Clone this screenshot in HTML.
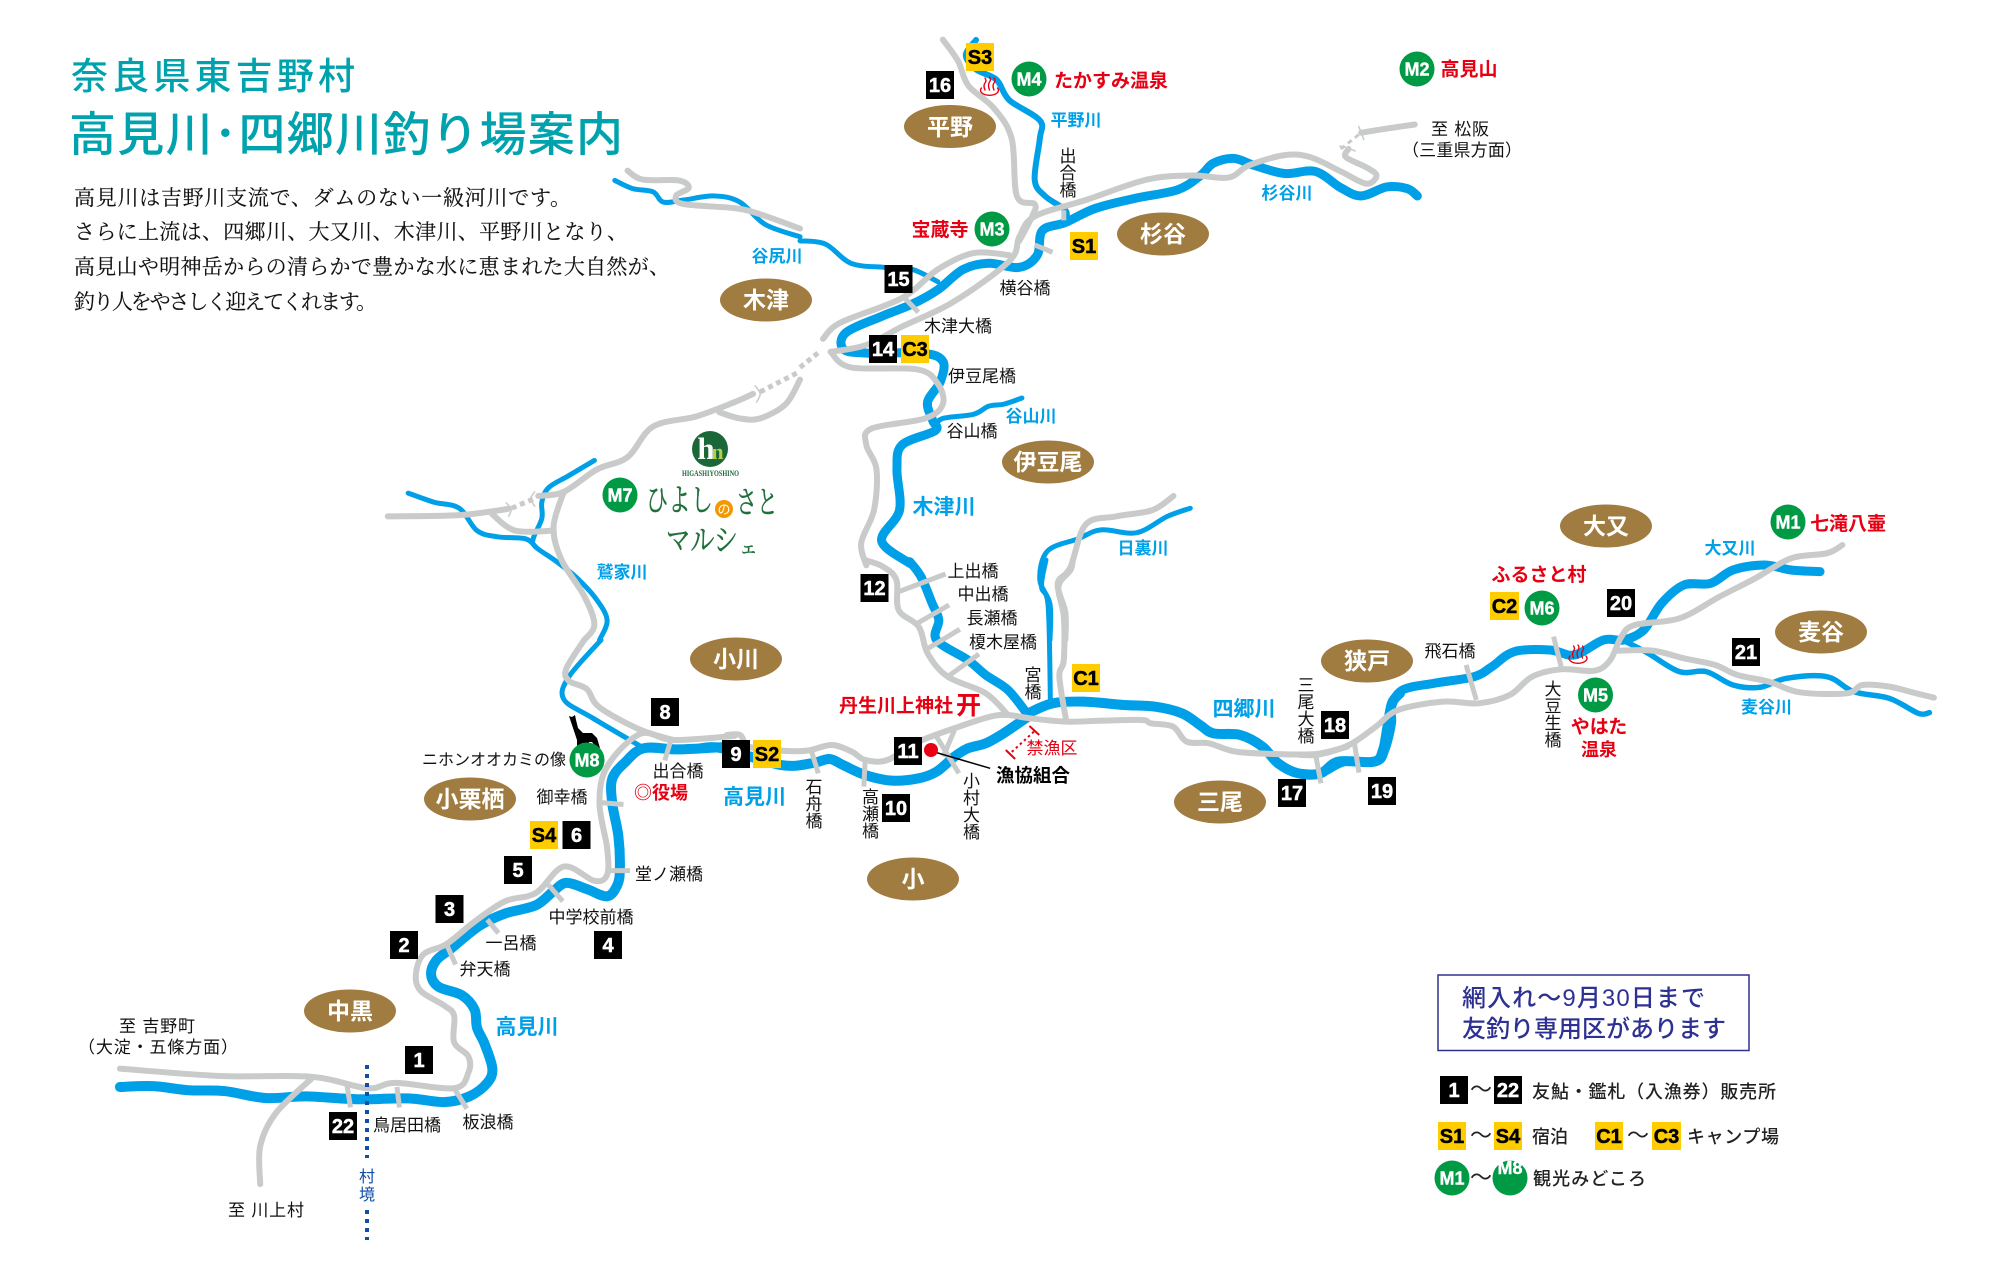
<!DOCTYPE html>
<html lang="ja">
<head>
<meta charset="utf-8">
<title>高見川・四郷川釣り場案内</title>
<style>
html,body{margin:0;padding:0;background:#fff}
svg{display:block}
text{font-family:"Liberation Sans","Noto Sans CJK JP",sans-serif}
polyline,path.sm{fill:none;stroke-linejoin:round;stroke-linecap:round;vector-effect:non-scaling-stroke}
.b{stroke:#00a0e9;stroke-width:10}
.bs{stroke:#00a0e9;stroke-width:5}
.g{stroke:#c9caca;stroke-width:6}
.gs{stroke:#c9caca;stroke-width:5;stroke-linecap:butt}
.t{stroke:#c9caca;stroke-width:5;stroke-dasharray:5 4;stroke-linecap:butt}
.m{stroke:#c9caca;stroke-width:1.5}
.l{font-size:17px;fill:#111;text-anchor:middle}
.r{font-size:17px;font-weight:700;fill:#00a0e9;text-anchor:middle}
.rb{font-size:21px;font-weight:700;fill:#00a0e9;text-anchor:middle}
.red{font-size:19px;font-weight:700;fill:#e60012;text-anchor:middle}
.ov{font-size:23px;font-weight:700;fill:#fff;text-anchor:middle}
.nb{font-family:"Liberation Sans",sans-serif;font-size:20px;font-weight:700;fill:#fff;stroke:#fff;stroke-width:.5;text-anchor:middle}
.ny{font-family:"Liberation Sans",sans-serif;font-size:20px;font-weight:700;fill:#000;stroke:#000;stroke-width:.5;text-anchor:middle}
.nm{font-family:"Liberation Sans",sans-serif;font-size:18px;font-weight:700;fill:#fff;stroke:#fff;stroke-width:.4;text-anchor:middle}
.body{font-family:"Liberation Serif","Noto Serif CJK SC",serif;font-size:21px;fill:#111;stroke:#111;stroke-width:.15}
.leg{font-size:18px;font-weight:500;fill:#222}
.hi{font-family:"Liberation Serif","Noto Serif CJK SC",serif;fill:#1f6f3a;stroke:#1f6f3a;stroke-width:.4}
</style>
</head>
<body>
<svg xmlns="http://www.w3.org/2000/svg" width="2000" height="1280" viewBox="0 0 2000 1280">
<rect width="2000" height="1280" fill="#fff"/>

<!-- title -->
<text x="71" y="89" font-size="37" fill="#00a3ad" font-weight="500" textLength="284" lengthAdjust="spacing">奈良県東吉野村</text>
<text x="69" y="151" font-size="47" fill="#00a3ad" font-weight="500" textLength="554" lengthAdjust="spacing">高見川･四郷川釣り場案内</text>
<text class="body" x="74" y="205" textLength="497" lengthAdjust="spacing">高見川は吉野川支流で、ダムのない一級河川です。</text>
<text class="body" x="74" y="239" textLength="554" lengthAdjust="spacing">さらに上流は、四郷川、大又川、木津川、平野川となり、</text>
<text class="body" x="74" y="274" textLength="596" lengthAdjust="spacing">高見山や明神岳からの清らかで豊かな水に恵まれた大自然が、</text>
<text class="body" x="74" y="309" textLength="303" lengthAdjust="spacing">釣り人をやさしく迎えてくれます。</text>

<!-- G4: lower left -->
<g transform="translate(0,640) scale(.5102,.4082)">
<polyline class="b" points="235,1095 300,1093 370,1103 440,1105 520,1122 600,1118 700,1125 800,1123 870,1132 920,1118 955,1085 965,1050 950,990 935,950 930,905 905,870 860,850 845,820 855,785 885,755 940,700 990,670 1050,650 1085,615 1110,595 1150,610 1190,628 1210,600 1215,560 1212,480 1200,400 1200,340 1225,300 1262,265 1330,268 1420,262"/>
<polyline class="bs" points="1178,0 1115,90 1105,145 1160,190 1262,265"/>
<polyline class="g" points="235,1050 430,1068 610,1070 720,1098 775,1085 890,1098 918,1060 918,1020 890,985 890,920 870,895 825,860 815,820 830,770 875,745 930,690 990,640 1050,620 1105,555 1165,590 1190,575 1190,510 1175,400 1190,310 1255,230 1320,245 1440,235"/>
<polyline class="g" points="1145,0 1110,70 1115,100 1150,120 1175,165 1255,220 1320,245"/>
<polyline class="g" points="610,1075 540,1160 510,1240 510,1333"/>
<polyline class="gs" points="680,1090 687,1145"/>
<polyline class="gs" points="778,1095 783,1145"/>
<polyline class="gs" points="890,1098 915,1148"/>
<polyline class="gs" points="875,745 893,795"/>
<polyline class="gs" points="955,685 977,718"/>
<polyline class="gs" points="1075,600 1103,640"/>
<polyline class="gs" points="1190,565 1235,565"/>
<polyline class="gs" points="1175,398 1222,403"/>
<polyline class="gs" points="1315,245 1303,295"/>
</g>

<!-- G1: upper left -->
<g transform="scale(.5102,.4082)">
<polyline class="bs" points="1165,1128 1115,1165 1075,1195 1062,1230 1062,1270 1045,1320 1050,1340 1090,1375 1130,1415 1170,1470 1190,1520 1175,1568"/>
<polyline class="bs" points="800,1208 850,1230 900,1245 935,1300 975,1315 1030,1320 1050,1340"/>
<polyline class="bs" points="1205,442 1240,462 1280,470 1300,495 1340,490 1400,480 1450,495 1500,550 1568,580"/>
<polyline class="g" points="760,1265 900,1262 995,1247"/>
<polyline class="t" points="1003,1245 1050,1220"/>
<polyline class="g" points="1055,1215 1105,1205 1170,1150 1230,1120 1280,1045 1365,1020 1440,985 1476,965"/>
<polyline class="t" points="1490,960 1568,910"/>
<polyline class="g" points="1105,1205 1085,1290 1100,1370 1145,1460 1165,1530 1145,1568"/>
<polyline class="g" points="965,1260 1010,1300 1085,1300"/>
<polyline class="g" points="1410,1010 1450,1025 1490,1025 1540,990 1568,930"/>
<polyline class="g" points="1230,418 1260,440 1330,442 1350,460 1325,480 1340,500 1440,510 1490,525 1568,560"/>
<polyline class="m" points="1480,945 1490,965 1483,985"/>
<polyline class="m" points="992,1232 1002,1247 997,1265"/>
<polyline class="m" points="1048,1205 1040,1222 1048,1240"/>
</g>

<!-- G2: upper middle -->
<g transform="translate(800,0) scale(.5102,.4082)">
<polyline class="bs" points="0,590 50,598 100,645 165,655 220,660 270,690"/>
<polyline class="bs" style="stroke-width:6" points="345,98 325,135 345,170 385,195 410,245 470,295 470,340 460,440 480,480 520,515 520,540"/>
<polyline class="bs" points="435,975 400,990 370,995 340,1015 280,1025 265,1045"/>
<polyline class="bs" points="765,1245 720,1265 660,1305 590,1298 545,1320 485,1350 470,1420 490,1480 490,1568"/>
<polyline class="b" style="stroke-width:9" points="1210,480 1190,462 1150,458 1100,480 1060,460 1010,420 950,425 890,405 850,388 810,400 785,430 740,465 660,485 580,510 520,545 475,565 465,625 430,655 370,645 320,660 270,710 220,745 160,775 90,815 85,855 130,865 240,865 280,885 275,935 250,985 260,1030 265,1055 200,1090 190,1150 195,1250 160,1325 215,1380"/>
<polyline class="t" points="0,900 40,860"/>
<polyline class="g" points="60,862 130,845 200,800 300,740 410,640 430,580 460,530 560,490 680,440 770,430 840,435 880,405 950,380 1000,385 1060,420 1110,450 1130,430 1110,410 1070,385 1075,365"/>
<polyline class="t" style="stroke-width:3" points="1060,365 1100,325"/>
<polyline class="g" points="1100,325 1150,315 1205,305"/>
<polyline class="g" points="45,830 80,790 200,730 270,660 340,620 410,625"/>
<polyline class="g" points="60,862 100,900 230,905 270,940 280,990 245,1025 140,1050 130,1090 150,1150 145,1250 120,1330 130,1385"/>
<polyline class="g" points="280,97 310,150 330,210 380,265 415,340 425,480 460,500 455,530 430,590"/>
<polyline class="g" points="732,1215 690,1250 620,1265 560,1285 530,1390 505,1430 520,1500 520,1568"/>
<polyline class="gs" points="460,600 495,618"/>
<polyline class="gs" points="205,730 232,765"/>
<polyline class="gs" points="517,515 517,540"/>
<polyline class="m" points="1095,310 1100,325 1105,342"/>
<polyline class="m" points="1058,358 1072,362 1088,370"/>
</g>

<!-- G5: center -->
<g transform="translate(700,560) scale(.4464,.3333)">
<polyline class="b" points="0,565 50,565 180,615 250,610 290,597 320,615 370,645 430,662 490,655 530,635 570,590 600,565 640,550 680,520 735,470"/>
<polyline class="b" style="stroke-width:9" points="470,5 495,50 520,130 535,180 530,240 600,300 640,345 690,390 735,465"/>
<polyline class="b" points="735,460 790,430 860,425 950,435 1020,440 1080,460 1120,495 1150,520 1210,525 1260,560 1295,610 1340,640 1390,640 1430,605 1510,605 1530,570 1540,500 1550,430 1568,400"/>
<polyline class="bs" points="775,0 765,80 780,140 785,430"/>
<polyline class="g" points="60,525 90,525 110,560 180,572 240,572 295,555 340,575 370,600 420,600 490,545 580,500 650,470 690,465 740,475 820,485 900,482 990,480 1010,490 1060,500 1090,545 1140,550 1200,575 1290,582 1380,582 1450,560"/>
<polyline class="g" points="370,0 410,20 440,60 445,150 490,200 510,280 555,350 640,400 690,465"/>
<polyline class="g" points="835,0 830,30 803,80 815,170 815,300 805,350 820,480"/>
<polyline class="gs" points="445,95 550,42"/>
<polyline class="gs" points="480,195 558,135"/>
<polyline class="gs" points="505,270 582,208"/>
<polyline class="gs" points="555,350 625,282"/>
<polyline class="gs" points="250,575 265,640"/>
<polyline class="gs" points="370,600 367,680"/>
<polyline class="gs" points="530,530 580,640"/>
<polyline class="gs" points="570,510 545,590"/>
<polyline style="stroke:#000;stroke-width:1.5;stroke-linecap:butt" points="530,578 650,625"/>
<polyline style="stroke:#e60012;stroke-width:2;stroke-dasharray:2.5 3;stroke-linecap:butt" points="748,515 695,580"/>
<polyline style="stroke:#e60012;stroke-width:2;stroke-linecap:butt" points="738,498 760,525"/>
<polyline style="stroke:#e60012;stroke-width:2;stroke-linecap:butt" points="685,570 706,597"/>
</g>

<!-- G3: right -->
<g transform="translate(1300,440) scale(.4464,.3333)">
<polyline class="b" style="stroke-width:9" points="0,1000 45,1000 100,965 170,965 190,930 205,850 205,800 230,750 300,730 390,710 430,680 480,635 560,630 615,645 680,600 725,600 770,570 810,490 860,435 920,430 970,390 1040,375 1100,390 1165,395"/>
<polyline class="bs" style="stroke-width:5.500" points="730,605 780,640 850,695 910,695 970,735 1030,742 1090,715 1180,710 1240,755 1320,775 1385,820 1410,818"/>
<polyline class="g" points="0,945 45,943 110,915 170,860 220,810 320,785 400,790 470,765 520,710 585,688 660,692 695,660 720,590 750,555 850,535 940,470 1020,415 1100,355 1180,340 1215,315"/>
<polyline class="g" points="710,632 790,632 860,655 930,675 980,705 1050,725 1120,757 1225,760 1260,735 1320,740 1380,760 1420,773"/>
<polyline class="gs" points="568,590 585,680"/>
<polyline class="gs" points="372,675 395,780"/>
<polyline class="gs" points="122,910 132,998"/>
<polyline class="gs" points="35,945 47,1030"/>
</g>

<!-- village border -->
<line x1="367" y1="1065" x2="367" y2="1158" stroke="#0d4ea6" stroke-width="4" stroke-dasharray="4 5"/>
<line x1="367" y1="1210" x2="367" y2="1240" stroke="#0d4ea6" stroke-width="4" stroke-dasharray="4 5"/>
<text font-size="16" fill="#0d4ea6" text-anchor="middle"><tspan x="367" y="1182">村</tspan><tspan x="367" y="1200">境</tspan></text>

<!-- wolf -->
<polygon fill="#000" points="569,716 572,717 575,715 576,720 578,728 583,733 592,733 597,738 600,748 596,747 592,742 589,742 588,746 582,743 581,748 577,747 577,740 573,728 571,722"/>

<!-- fishery dot -->
<circle cx="931" cy="750" r="7" fill="#e60012"/>

<!-- ovals -->
<g fill="#a07c41">
<ellipse cx="950" cy="126.500" rx="46" ry="21.500"/>
<ellipse cx="1163" cy="234" rx="46" ry="21.500"/>
<ellipse cx="1048" cy="462" rx="46" ry="21.500"/>
<ellipse cx="766" cy="300" rx="46" ry="21.500"/>
<ellipse cx="1606" cy="526" rx="46" ry="21.500"/>
<ellipse cx="1367" cy="661" rx="46" ry="21.500"/>
<ellipse cx="1821" cy="632" rx="46" ry="21.500"/>
<ellipse cx="736" cy="659" rx="46" ry="21.500"/>
<ellipse cx="913" cy="879" rx="46" ry="21.500"/>
<ellipse cx="1220" cy="802" rx="46" ry="21.500"/>
<ellipse cx="470" cy="799" rx="46" ry="21.500"/>
<ellipse cx="350" cy="1011" rx="46" ry="21.500"/>
</g>
<text class="ov" x="950" y="135">平野</text>
<text class="ov" x="1163" y="242">杉谷</text>
<text class="ov" x="1048" y="470">伊豆尾</text>
<text class="ov" x="766" y="308">木津</text>
<text class="ov" x="1606" y="534">大又</text>
<text class="ov" x="1367" y="669">狭戸</text>
<text class="ov" x="1821" y="640">麦谷</text>
<text class="ov" x="736" y="667">小川</text>
<text class="ov" x="913" y="887">小</text>
<text class="ov" x="1220" y="810">三尾</text>
<text class="ov" x="470" y="807">小栗栖</text>
<text class="ov" x="350" y="1019">中黒</text>

<!-- black boxes -->
<g fill="#000">
<rect x="405" y="1046" width="28" height="28"/>
<rect x="390" y="931" width="28" height="28"/>
<rect x="435.500" y="895" width="28" height="28"/>
<rect x="594" y="931" width="28" height="28"/>
<rect x="504" y="856" width="28" height="28"/>
<rect x="562.500" y="821" width="28" height="28"/>
<rect x="651" y="698" width="28" height="28"/>
<rect x="722" y="740" width="28" height="28"/>
<rect x="329" y="1112" width="28" height="28"/>
<rect x="860.500" y="574" width="28" height="28"/>
<rect x="894" y="737" width="28" height="28"/>
<rect x="882" y="794" width="28" height="28"/>
<rect x="1278" y="779" width="28" height="28"/>
<rect x="1321" y="711" width="28" height="28"/>
<rect x="1368" y="777" width="28" height="28"/>
<rect x="926" y="71" width="28" height="28"/>
<rect x="884.500" y="265" width="28" height="28"/>
<rect x="869" y="335" width="28" height="28"/>
<rect x="1607" y="589" width="28" height="28"/>
<rect x="1732" y="638" width="28" height="28"/>
</g>
<text class="nb" x="419" y="1067">1</text>
<text class="nb" x="404" y="952">2</text>
<text class="nb" x="449.500" y="916">3</text>
<text class="nb" x="608" y="952">4</text>
<text class="nb" x="518" y="877">5</text>
<text class="nb" x="576.500" y="842">6</text>
<text class="nb" x="665" y="719">8</text>
<text class="nb" x="736" y="761">9</text>
<text class="nb" x="343" y="1133">22</text>
<text class="nb" x="874.500" y="595">12</text>
<text class="nb" x="908" y="758">11</text>
<text class="nb" x="896" y="815">10</text>
<text class="nb" x="1292" y="800">17</text>
<text class="nb" x="1335" y="732">18</text>
<text class="nb" x="1382" y="798">19</text>
<text class="nb" x="940" y="92">16</text>
<text class="nb" x="898.500" y="286">15</text>
<text class="nb" x="883" y="356">14</text>
<text class="nb" x="1621" y="610">20</text>
<text class="nb" x="1746" y="659">21</text>

<!-- yellow boxes -->
<g fill="#ffcc00">
<rect x="530" y="821" width="28" height="28"/>
<rect x="753" y="740" width="28" height="28"/>
<rect x="1072" y="664" width="28" height="28"/>
<rect x="966" y="43" width="28" height="28"/>
<rect x="1070" y="232" width="28" height="28"/>
<rect x="901" y="335" width="28" height="28"/>
<rect x="1490" y="592" width="29" height="28"/>
</g>
<text class="ny" x="544" y="842">S4</text>
<text class="ny" x="767" y="761">S2</text>
<text class="ny" x="1086" y="685">C1</text>
<text class="ny" x="980" y="64">S3</text>
<text class="ny" x="1084" y="253">S1</text>
<text class="ny" x="915" y="356">C3</text>
<text class="ny" x="1504.500" y="613">C2</text>

<!-- green circles -->
<g fill="#009944">
<circle cx="1029" cy="79" r="17.500"/>
<circle cx="1417" cy="69" r="17.500"/>
<circle cx="992" cy="229" r="17.500"/>
<circle cx="1542" cy="608" r="17.500"/>
<circle cx="1788" cy="522" r="17.500"/>
<circle cx="1595.500" cy="695" r="17.500"/>
<circle cx="620" cy="495" r="17.500"/>
<circle cx="587" cy="760" r="17.500"/>
</g>
<text class="nm" x="1029" y="85.500">M4</text>
<text class="nm" x="1417" y="75.500">M2</text>
<text class="nm" x="992" y="235.500">M3</text>
<text class="nm" x="1542" y="614.500">M6</text>
<text class="nm" x="1788" y="528.500">M1</text>
<text class="nm" x="1595.500" y="701.500">M5</text>
<text class="nm" x="620" y="501.500">M7</text>
<text class="nm" x="587" y="766.500">M8</text>

<!-- onsen icons -->
<g fill="none" stroke="#e60012" stroke-width="1.400" stroke-linecap="round">
<g transform="translate(989.500,88)">
<path d="M-8,0 A9,5 0 1 0 8,0"/>
<path d="M-4.500,-10 q2,2.500 0,5 q-2,2.500 0,7"/>
<path d="M0,-11 q2,2.500 0,5 q-2,2.500 0,8"/>
<path d="M4.500,-10 q2,2.500 0,5 q-2,2.500 0,7"/>
</g>
<g transform="translate(1578,656)">
<path d="M-8,0 A9,5 0 1 0 8,0"/>
<path d="M-4.500,-10 q2,2.500 0,5 q-2,2.500 0,7"/>
<path d="M0,-11 q2,2.500 0,5 q-2,2.500 0,8"/>
<path d="M4.500,-10 q2,2.500 0,5 q-2,2.500 0,7"/>
</g>
</g>

<!-- red labels -->
<text class="red" x="1111" y="87">たかすみ温泉</text>
<text class="red" x="1469" y="75.500">高見山</text>
<text class="red" x="940" y="236">宝蔵寺</text>
<text class="red" x="1539" y="581">ふるさと村</text>
<text class="red" x="1848" y="530">七滝八壷</text>
<text class="red" x="1599" y="733">やはた</text>
<text class="red" x="1599" y="756" style="font-size:18px">温泉</text>
<text class="red" x="896" y="712">丹生川上神社</text>
<text class="red" x="968.500" y="714" style="font-family:'Liberation Sans','Noto Sans CJK SC',sans-serif;font-size:25px">开</text>
<text class="red" x="661" y="799" style="font-size:18px">◎役場</text>
<text x="1052" y="754" font-size="17" fill="#e60012" text-anchor="middle">禁漁区</text>
<text x="1033" y="782" font-size="18.500" font-weight="700" fill="#000" text-anchor="middle">漁協組合</text>

<!-- river labels -->
<text class="r" x="1076" y="126">平野川</text>
<text class="r" x="1287" y="199">杉谷川</text>
<text class="r" x="1031" y="422">谷山川</text>
<text class="r" x="1143" y="554">日裏川</text>
<text class="r" x="1730" y="554">大又川</text>
<text class="r" x="1766.500" y="713">麦谷川</text>
<text class="r" x="622" y="578">鷲家川</text>
<text class="r" x="777" y="262">谷尻川</text>
<text class="rb" x="944" y="514">木津川</text>
<text class="rb" x="1244" y="716">四郷川</text>
<text class="rb" x="754.500" y="804">高見川</text>
<text class="rb" x="527" y="1034">高見川</text>

<!-- bridge and place labels -->
<text class="l" x="1460" y="135" textLength="58" lengthAdjust="spacing">至 松阪</text>
<text class="l" x="1462" y="156" textLength="120" lengthAdjust="spacing">（三重県方面）</text>
<text class="l" x="1025" y="294">横谷橋</text>
<text class="l" x="958" y="332">木津大橋</text>
<text class="l" x="982" y="382">伊豆尾橋</text>
<text class="l" x="972" y="437">谷山橋</text>
<text class="l" x="973" y="577">上出橋</text>
<text class="l" x="983" y="600">中出橋</text>
<text class="l" x="992" y="624">長瀬橋</text>
<text class="l" x="1003" y="648">榎木屋橋</text>
<text class="l" x="1450" y="657">飛石橋</text>
<text class="l" x="494" y="765" style="font-size:16px">ニホンオオカミの像</text>
<text class="l" x="562" y="803">御幸橋</text>
<text class="l" x="678" y="777">出合橋</text>
<text class="l" x="669" y="880">堂ノ瀬橋</text>
<text class="l" x="591" y="923">中学校前橋</text>
<text class="l" x="511" y="949">一呂橋</text>
<text class="l" x="485" y="975">弁天橋</text>
<text class="l" x="157" y="1032" textLength="76" lengthAdjust="spacing">至 吉野町</text>
<text class="l" x="158" y="1053" textLength="160" lengthAdjust="spacing">（大淀・五條方面）</text>
<text class="l" x="407" y="1131">鳥居田橋</text>
<text class="l" x="488" y="1128">板浪橋</text>
<text class="l" x="266" y="1216" textLength="76" lengthAdjust="spacing">至 川上村</text>

<!-- vertical labels -->
<text class="l"><tspan x="1068" y="162">出</tspan><tspan x="1068" y="179">合</tspan><tspan x="1068" y="196">橋</tspan></text>
<text class="l"><tspan x="1033" y="681">宮</tspan><tspan x="1033" y="698">橋</tspan></text>
<text class="l"><tspan x="1553" y="695">大</tspan><tspan x="1553" y="712">豆</tspan><tspan x="1553" y="729">生</tspan><tspan x="1553" y="746">橋</tspan></text>
<text class="l"><tspan x="1306" y="691">三</tspan><tspan x="1306" y="708">尾</tspan><tspan x="1306" y="725">大</tspan><tspan x="1306" y="742">橋</tspan></text>
<text class="l"><tspan x="971.500" y="787">小</tspan><tspan x="971.500" y="804">村</tspan><tspan x="971.500" y="821">大</tspan><tspan x="971.500" y="838">橋</tspan></text>
<text class="l"><tspan x="814" y="793">石</tspan><tspan x="814" y="810">舟</tspan><tspan x="814" y="827">橋</tspan></text>
<text class="l"><tspan x="870.500" y="803">高</tspan><tspan x="870.500" y="820">瀬</tspan><tspan x="870.500" y="837">橋</tspan></text>

<!-- logo -->
<circle cx="710" cy="449" r="18" fill="#1a6838"/>
<text x="706" y="459" font-size="31" font-weight="700" fill="#fff" text-anchor="middle" style="font-family:'Liberation Serif',serif">h</text>
<text x="717.500" y="459" font-size="22" font-weight="700" fill="#b5cf4a" text-anchor="middle" style="font-family:'Liberation Serif',serif">n</text>
<text x="710.500" y="476" font-size="8" font-weight="700" fill="#1a6838" text-anchor="middle" textLength="57" lengthAdjust="spacingAndGlyphs" style="font-family:'Liberation Serif',serif">HIGASHIYOSHINO</text>
<text class="hi" x="646" y="511" font-size="31" textLength="67" lengthAdjust="spacingAndGlyphs">ひよし</text>
<circle cx="724" cy="509" r="9" fill="#f39800"/>
<text x="724" y="514" font-size="13" fill="#fff" text-anchor="middle">の</text>
<text class="hi" x="736" y="513" font-size="31" textLength="42" lengthAdjust="spacingAndGlyphs">さと</text>
<text class="hi" x="666" y="551" font-size="32" textLength="72" lengthAdjust="spacingAndGlyphs">マルシ</text>
<text class="hi" x="739" y="554" font-size="19">ェ</text>

<!-- notice box and legend -->
<g transform="translate(-8,-7)">
<rect x="1446" y="982" width="311" height="75.500" fill="#fff" stroke="#2e3191" stroke-width="1.500"/>
<text x="1470" y="1013" font-size="24" font-weight="500" fill="#2e3191" textLength="243" lengthAdjust="spacing">網入れ〜9月30日まで</text>
<text x="1470" y="1044" font-size="24" font-weight="500" fill="#2e3191" textLength="264" lengthAdjust="spacing">友釣り専用区があります</text>

<rect x="1448" y="1083" width="28" height="28" fill="#000"/>
<text class="nb" x="1462" y="1104">1</text>
<rect x="1502" y="1083" width="28" height="28" fill="#000"/>
<text class="nb" x="1516" y="1104">22</text>
<text x="1489" y="1104" font-size="22" fill="#222" text-anchor="middle">〜</text>
<text class="leg" x="1540" y="1105" textLength="244" lengthAdjust="spacing">友鮎・鑑札（入漁券）販売所</text>

<rect x="1446" y="1129" width="28" height="28" fill="#ffcc00"/>
<text class="ny" x="1460" y="1150">S1</text>
<rect x="1502" y="1129" width="28" height="28" fill="#ffcc00"/>
<text class="ny" x="1516" y="1150">S4</text>
<text x="1489" y="1150" font-size="22" fill="#222" text-anchor="middle">〜</text>
<text class="leg" x="1540" y="1150">宿泊</text>
<rect x="1603" y="1129" width="28" height="28" fill="#ffcc00"/>
<text class="ny" x="1617" y="1150">C1</text>
<text x="1646" y="1150" font-size="22" fill="#222" text-anchor="middle">〜</text>
<rect x="1660" y="1129" width="29" height="28" fill="#ffcc00"/>
<text class="ny" x="1674.500" y="1150">C3</text>
<text class="leg" x="1695" y="1150" textLength="92" lengthAdjust="spacing">キャンプ場</text>

<circle cx="1460" cy="1185" r="17.500" fill="#009944"/>
<text class="nm" x="1460" y="1191.500">M1</text>
<text x="1489" y="1192" font-size="22" fill="#222" text-anchor="middle">〜</text>
<circle cx="1518" cy="1185" r="17.500" fill="#009944"/>
<text class="nm" x="1518" y="1181">M8</text>
<text class="leg" x="1541" y="1192" textLength="113" lengthAdjust="spacing">観光みどころ</text>
</g>
</svg>
<script>
(function(){
var ns="http://www.w3.org/2000/svg",list=document.querySelectorAll("polyline");
for(var k=0;k<list.length;k++){
  var e=list[k],c=e.getAttribute("class")||"";
  if(c==="t")continue;
  var n=e.getAttribute("points").trim().split(/\s+/).map(function(s){return s.split(",").map(Number)});
  if(n.length<3)continue;
  var d="M"+n[0][0]+" "+n[0][1];
  for(var i=0;i<n.length-1;i++){
    var a=n[Math.max(i-1,0)],b=n[i],f=n[i+1],g=n[Math.min(i+2,n.length-1)];
    d+="C"+(b[0]+(f[0]-a[0])/6)+" "+(b[1]+(f[1]-a[1])/6)+" "+(f[0]-(g[0]-b[0])/6)+" "+(f[1]-(g[1]-b[1])/6)+" "+f[0]+" "+f[1];
  }
  var p=document.createElementNS(ns,"path");
  p.setAttribute("d",d);
  p.setAttribute("class",(c+" sm").trim());
  if(e.getAttribute("style"))p.setAttribute("style",e.getAttribute("style"));
  e.parentNode.replaceChild(p,e);
}
})();
</script>
</body>
</html>
